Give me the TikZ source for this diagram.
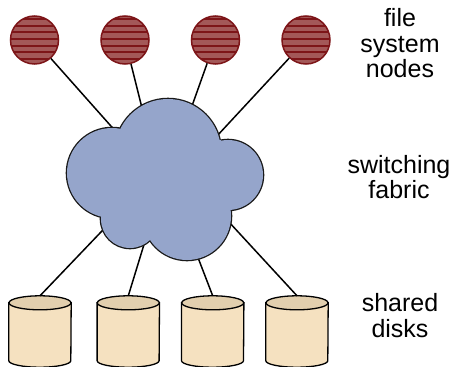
\documentclass[tikz,border=0pt]{standalone}
\usepackage{fontspec}
\setmainfont{Liberation Sans}
\definecolor{fsfill}{HTML}{A35858}
\definecolor{fsline}{HTML}{7D1518}
\definecolor{cloudfill}{HTML}{95A5CB}
\definecolor{diskbody}{HTML}{F5E1C0}
\definecolor{disktop}{HTML}{E2CFAE}
\begin{document}
\begin{tikzpicture}[x=1pt,y=-1pt,
  fsnode/.style={circle, minimum size=48pt, inner sep=0pt, draw=fsline, line width=1.5pt, fill=fsfill,
    path picture={\foreach \k in {-3,...,3}{
      \draw[fsline, line width=1.8pt]
        ([yshift=1pt-\k*6.63pt]path picture bounding box.west) --
        ([yshift=1pt-\k*6.63pt]path picture bounding box.east);}}},
  diskbox/.style={rectangle, minimum width=62pt, minimum height=71pt, inner sep=0pt},
  diskline/.style={draw=black, line width=1.3pt},
  link/.style={draw=black, line width=1.5pt},
  cloudedge/.style={draw=black!90, line width=2.6pt},
  caption/.style={font=\fontsize{25}{25.5}\selectfont, align=center, inner sep=0pt, anchor=north}]
\useasboundingbox (0,0) rectangle (453,367);

% file system nodes
\node[fsnode] (n1) at (34.5,40) {};
\node[fsnode] (n2) at (125,40) {};
\node[fsnode] (n3) at (215.5,40) {};
\node[fsnode] (n4) at (306,40) {};

% shared disks: a box per disk, drawn as a cylinder
\foreach \x/\name in {40/d1, 128.3/d2, 212.7/d3, 297/d4}{
  \node[diskbox] (\name) at (\x,331.5) {};
  \path[diskline, fill=diskbody]
    ([yshift=-7pt]\name.north west) -- ([yshift=6.5pt]\name.south west)
    arc[start angle=180, end angle=360, x radius=31pt, y radius=6.5pt]
    -- ([yshift=-7pt]\name.north east) -- cycle;
  \path[diskline, fill=disktop]
    ([yshift=-7pt]\name.north) ellipse[x radius=31pt, y radius=7pt];
}

% attachment points just inside the fabric outline
\coordinate (fabric) at (167,180);
\coordinate (t1) at (118,134);
\coordinate (t2) at (142.9,111.5);
\coordinate (t3) at (191,108.7);
\coordinate (t4) at (216.6,136.4);
\coordinate (b1) at (107.4,225.3);
\coordinate (b2) at (144.8,241.9);
\coordinate (b3) at (196.5,253.7);
\coordinate (b4) at (228.3,221.3);

% links
\draw[link] (n1) -- (t1);
\draw[link] (n2) -- (t2);
\draw[link] (n3) -- (t3);
\draw[link] (n4) -- (t4);
\draw[link] (b1) -- (d1.north);
\draw[link] (b2) -- (d2.north);
\draw[link] (b3) -- (d3.north);
\draw[link] (b4) -- (d4.north);

% switching fabric cloud: union of lobes
\foreach \cx/\cy/\r in {168/152/53, 112/173/45, 228/175/35, 187/216/44, 130/219/29}
  \draw[cloudedge] (\cx,\cy) circle[radius=\r pt];
\fill[cloudfill]
  (168,152) circle[radius=53pt]
  (112,173) circle[radius=45pt]
  (228,175) circle[radius=35pt]
  (187,216) circle[radius=44pt]
  (130,219) circle[radius=29pt];
\fill[cloudfill] (120,129) -- (221,140) -- (232,209) -- (150,240) -- (103,218) -- cycle;

% captions
\node[caption] (lab1) at (400,8.5) {file\\system\\nodes};
\node[caption] (lab2) at (399,155) {switching\\fabric};
\node[caption] (lab3) at (400,293.5) {shared\\disks};
\end{tikzpicture}
\end{document}
